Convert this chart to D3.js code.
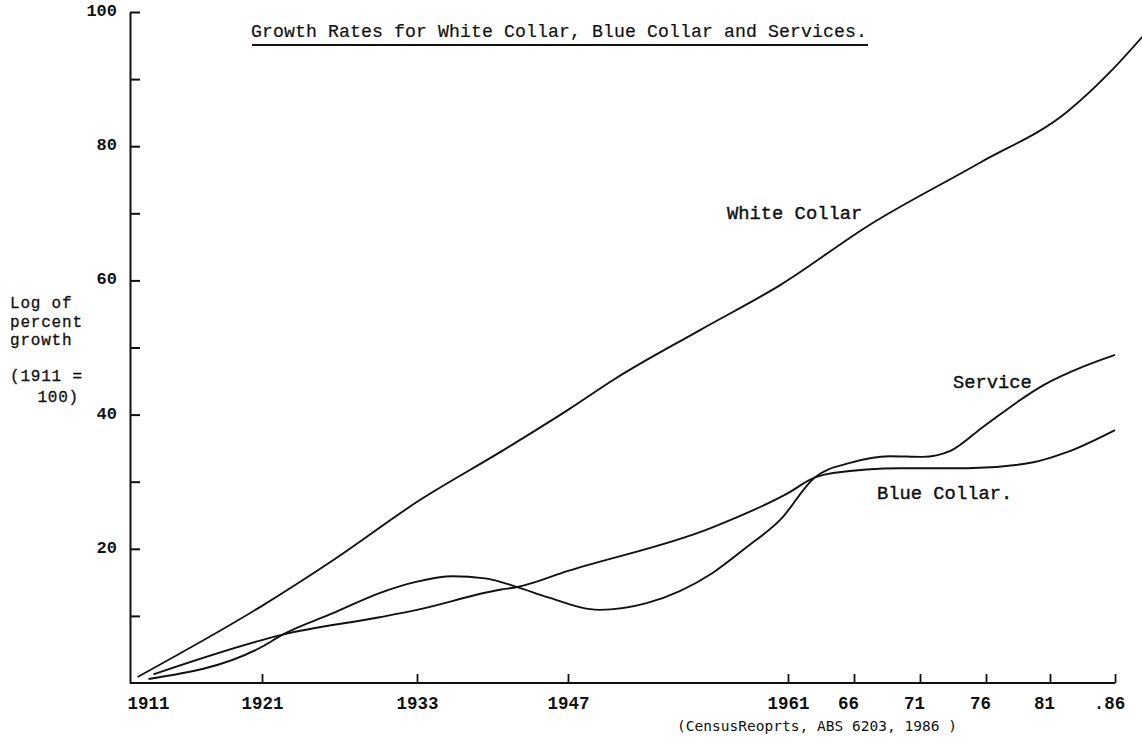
<!DOCTYPE html>
<html>
<head>
<meta charset="utf-8">
<script src="https://cdn.jsdelivr.net/npm/d3@7"></script>
<style>
  body { margin: 0; background: #fff; }
  svg { display: block; }
  text { fill: #111; }
</style>
</head>
<body>
<svg width="1142" height="744"></svg>
<script>
const svg = d3.select("svg")

const width = + svg.attr("width")
const height = + svg.attr("height")

// census years on the x axis, and what is typed under them
const censusYears = [1911, 1921, 1933, 1947, 1961, 1966, 1971, 1976, 1981, 1986]
const yearLabels = ["1911", "1921", "1933", "1947", "1961", "66", "71", "76", "81", ".86"]

const majorTicks = [20, 40, 60, 80, 100]
const minorTicks = [10, 30, 50, 70, 90]

// values: [year, log of percent growth]
const whiteCollar = [
  [1910.8, 0.9], [1921, 11.5], [1926.5, 18.3], [1933.3, 27.3], [1940.7, 34.4],
  [1947, 40.7], [1949.9, 45.2], [1955.4, 52.6], [1960.5, 59.3], [1967.2, 68.3],
  [1975.5, 77.5], [1982.3, 85.1], [1985.8, 91.4], [1988.1, 96.3]
]
const service = [
  [1911.7, 0.6], [1921, 5.4], [1922.6, 7.2], [1926.5, 10.4], [1930.1, 13.4],
  [1933, 15.1], [1936.3, 15.9], [1939.3, 15.6], [1942.3, 14.3], [1945.1, 12.8],
  [1949, 10.9], [1952, 11.9], [1956.2, 16.4], [1958.4, 20.3], [1960.5, 24.3],
  [1963, 30.6], [1965.7, 32.8], [1968.7, 33.8], [1971.2, 33.7], [1973.3, 34.6],
  [1975.8, 38.2], [1980.5, 44.4], [1983.5, 47.1], [1986, 48.9]
]
const blueCollar = [
  [1912.1, 1.3], [1921, 6.4], [1922.6, 7.2], [1930.1, 9.8], [1933, 10.9],
  [1940.7, 13.9], [1942.3, 14.3], [1947, 16.7], [1956.2, 23.2], [1961, 28.3],
  [1963, 30.6], [1964.4, 31.3], [1969.5, 32.0], [1974.6, 32.0], [1979.7, 32.9],
  [1982.3, 34.4], [1986, 37.7]
]

const originX = 130
const originY = 683

// the typed axis is not evenly spaced, so the scale is piecewise
const stops = [140, 262, 417, 568, 788, 854, 920, 986, 1050, 1115]
const xScale = d3.scaleLinear().domain(censusYears).range(stops)
const yScale = d3.scaleLinear().domain([0, 100]).range([originY, 12])

const mono = "'Liberation Mono', 'DejaVu Sans Mono', monospace"

// y axis, ticks pointing into the plot
const yAxis = svg.append("g")
    .attr("transform", `translate(${originX},0)`)
    .call(d3.axisLeft(yScale)
        .tickValues(majorTicks.concat(minorTicks))
        .tickSize(-10)
        .tickSizeOuter(0)
        .tickPadding(13)
        .tickFormat(d => majorTicks.includes(d) ? d : ""))
yAxis.selectAll("path, line").attr("stroke", "#111").attr("stroke-width", 2)
yAxis.selectAll("text")
    .style("font-family", mono).style("font-size", "17px").style("font-weight", "bold")
    .attr("dy", "0.2em")

// x axis
svg.append("line")
    .attr("x1", originX).attr("x2", xScale(1986))
    .attr("y1", originY).attr("y2", originY)
    .attr("stroke", "#111").attr("stroke-width", 2)

const xAxis = svg.append("g")
    .attr("transform", `translate(0,${originY})`)
    .call(d3.axisBottom(xScale)
        .tickValues(censusYears)
        .tickSize(-9)
        .tickSizeOuter(0)
        .tickPadding(14)
        .tickFormat((d, i) => yearLabels[i]))
xAxis.select(".domain").remove()
xAxis.selectAll("line").attr("stroke", "#111").attr("stroke-width", 1.8)
xAxis.selectAll(".tick").filter(d => d === 1911).select("line").remove()
xAxis.selectAll("text")
    .style("font-family", mono).style("font-size", "17.5px").style("font-weight", "bold")
    .attr("dx", (d, i) => i >= 5 ? -6 : (i === 0 ? 8 : 0))

// the three curves
const line = d3.line()
    .x(d => xScale(d[0]))
    .y(d => yScale(d[1]))
    .curve(d3.curveMonotoneX)

svg.selectAll(".series")
    .data([whiteCollar, service, blueCollar])
    .enter().append("path")
    .attr("class", "series")
    .attr("d", line)
    .attr("fill", "none")
    .attr("stroke", "#111")
    .attr("stroke-width", 1.9)

// series labels
const seriesLabels = [
  {text: "White Collar", x: 727, y: 219},
  {text: "Service", x: 953, y: 388},
  {text: "Blue Collar.", x: 877, y: 499}
]
svg.selectAll(".slabel")
    .data(seriesLabels)
    .enter().append("text")
    .attr("class", "slabel")
    .attr("x", d => d.x).attr("y", d => d.y)
    .style("font-family", mono).style("font-size", "18.8px")
    .style("stroke", "#111").style("stroke-width", 0.4)
    .text(d => d.text)

// title
svg.append("text")
    .attr("x", 251).attr("y", 37)
    .attr("textLength", 616)
    .style("font-family", mono).style("font-size", "18.2px")
    .style("stroke", "#111").style("stroke-width", 0.2)
    .text("Growth Rates for White Collar, Blue Collar and Services.")
svg.append("line")
    .attr("x1", 252).attr("x2", 868)
    .attr("y1", 45).attr("y2", 45)
    .attr("stroke", "#111").attr("stroke-width", 2)

// y axis caption
const caption = [
  {text: "Log of", x: 10, y: 308, anchor: "start"},
  {text: "percent", x: 10, y: 326.5, anchor: "start"},
  {text: "growth", x: 10, y: 345, anchor: "start"},
  {text: "(1911 =", x: 10, y: 381, anchor: "start"},
  {text: "100)", x: 79, y: 402, anchor: "end"}
]
svg.selectAll(".cap")
    .data(caption)
    .enter().append("text")
    .attr("class", "cap")
    .attr("x", d => d.x).attr("y", d => d.y)
    .attr("text-anchor", d => d.anchor)
    .style("font-family", mono).style("font-size", "16px")
    .style("letter-spacing", "0.8px")
    .style("stroke", "#111").style("stroke-width", 0.3)
    .text(d => d.text)

// source note
svg.append("text")
    .attr("x", 677).attr("y", 731)
    .attr("textLength", 280)
    .style("font-family", "'DejaVu Sans Mono', monospace").style("font-size", "14.5px")
    .text("(CensusReoprts, ABS 6203, 1986 )")
</script>
</body>
</html>
